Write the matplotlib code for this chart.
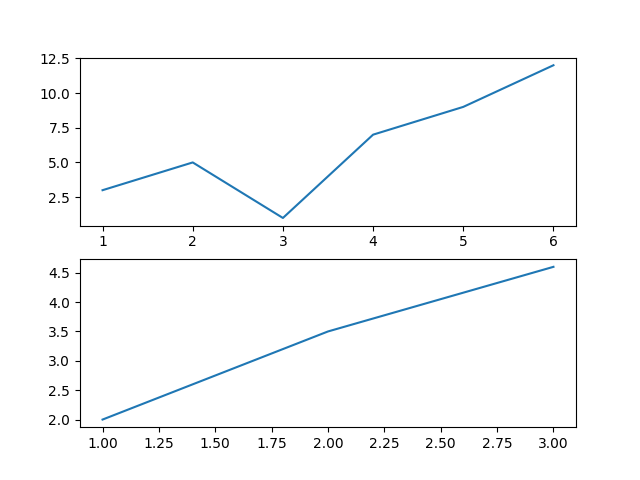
import matplotlib
matplotlib.use("Agg")
import matplotlib.pyplot as plt

x1 = [1, 2, 3, 4, 5, 6]
y1 = [3, 5, 1, 7, 9, 12]
x2 = [1, 2, 3]
y2 = [2, 3.5, 4.6]

fig, (ax1, ax2) = plt.subplots(2, 1, figsize=(6.4, 4.8), dpi=100)
ax1.plot(x1, y1)
ax2.plot(x2, y2)
fig.savefig("out.png")
